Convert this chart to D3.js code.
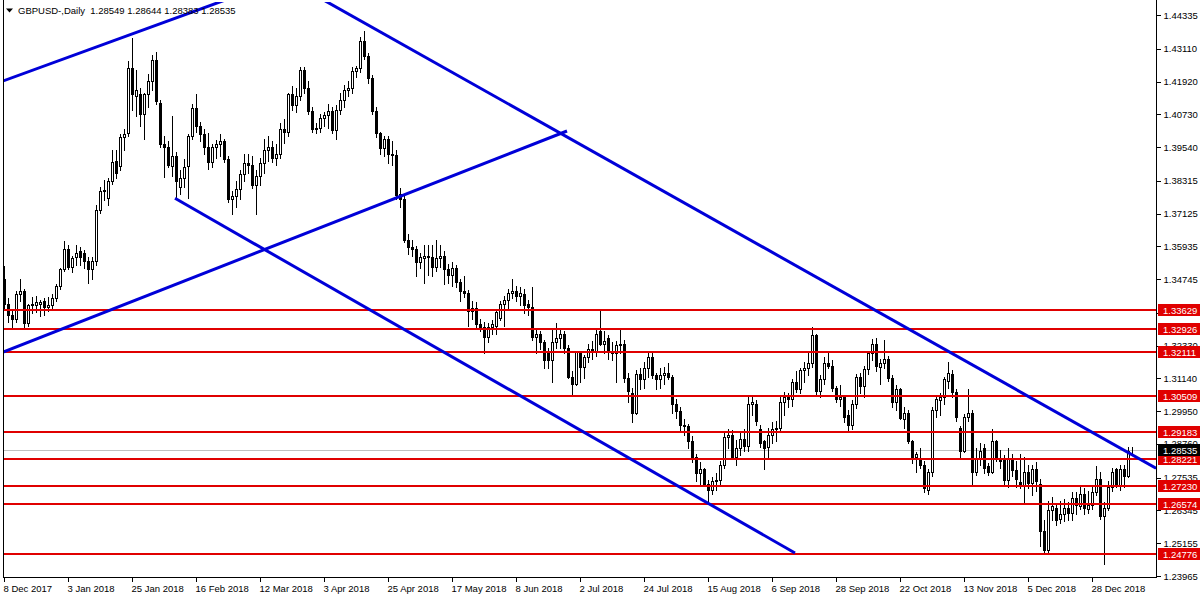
<!DOCTYPE html>
<html><head><meta charset="utf-8">
<script src="https://cdn.jsdelivr.net/npm/d3@7"></script>
<style>
html,body{margin:0;padding:0;background:#fff;}
svg{display:block;}
text{font-family:"Liberation Sans",Arial,sans-serif;font-size:9.5px;}
</style></head><body>
<svg id="chart" width="1200" height="600"></svg>
<script>
// ---------- DATA (GBPUSD Daily, 8 Dec 2017 .. 14 Jan 2019) ----------
const symbolTitle = "GBPUSD-,Daily";
const open = [
1.3475,1.3385,1.3345,1.3330,1.3420,1.3430,1.3315,1.3380,1.3382,1.3385,
1.3395,1.3375,1.3380,1.3405,1.3450,1.3510,1.3585,1.3520,1.3555,1.3575,
1.3570,1.3540,1.3510,1.3540,1.3725,1.3795,1.3770,1.3830,1.3905,1.3885,
1.3990,1.4005,1.4240,1.4140,1.4145,1.4075,1.4145,1.4195,1.4270,1.4115,
1.3965,1.3955,1.3885,1.3920,1.3810,1.3840,1.3885,1.3995,1.4095,1.4030,
1.4000,1.3955,1.3900,1.3955,1.3965,1.3975,1.3910,1.3765,1.3775,1.3800,
1.3855,1.3895,1.3890,1.3815,1.3850,1.3895,1.3945,1.3955,1.3915,1.3930,
1.4020,1.4010,1.4145,1.4105,1.4140,1.4235,1.4170,1.4085,1.4020,1.4025,
1.4060,1.4070,1.4085,1.4015,1.4090,1.4125,1.4160,1.4170,1.4230,1.4240,
1.4340,1.4285,1.4205,1.4085,1.4005,1.3950,1.3985,1.3930,1.3925,1.3785,
1.3765,1.3615,1.3590,1.3585,1.3535,1.3550,1.3560,1.3555,1.3520,1.3550,
1.3560,1.3510,1.3490,1.3515,1.3465,1.3430,1.3425,1.3360,1.3370,1.3310,
1.3300,1.3265,1.3300,1.3305,1.3335,1.3385,1.3400,1.3425,1.3430,1.3415,
1.3420,1.3385,1.3375,1.3265,1.3275,1.3245,1.3210,1.3180,1.3245,1.3260,
1.3275,1.3225,1.3120,1.3095,1.3210,1.3155,1.3190,1.3220,1.3215,1.3285,
1.3240,1.3260,1.3210,1.3205,1.3235,1.3240,1.3115,1.3060,1.2990,1.3130,
1.3110,1.3150,1.3190,1.3125,1.3110,1.3125,1.3135,1.3120,1.3020,1.2995,
1.2945,1.2940,1.2885,1.2830,1.2770,1.2785,1.2730,1.2710,1.2740,1.2745,
1.2800,1.2900,1.2910,1.2830,1.2860,1.2895,1.2870,1.3020,1.3020,1.2930,
1.2885,1.2865,1.2910,1.2930,1.2935,1.3030,1.3045,1.3040,1.3100,1.3075,
1.3145,1.3150,1.3170,1.3270,1.3070,1.3110,1.3170,1.3160,1.3080,1.3040,
1.3045,1.2980,1.2945,1.3020,1.3120,1.3085,1.3148,1.3205,1.3240,1.3155,
1.3170,1.3185,1.3115,1.3030,1.3075,1.2968,1.2990,1.2885,1.2830,1.2825,
1.2800,1.2710,1.2775,1.3000,1.3035,1.3045,1.3105,1.3130,1.3065,1.2935,
1.2850,1.2975,1.2990,1.2775,1.2820,1.2860,1.2795,1.2775,1.2885,1.2825,
1.2820,1.2745,1.2820,1.2780,1.2738,1.2725,1.2775,1.2735,1.2785,1.2730,
1.2560,1.2490,1.2635,1.2645,1.2605,1.2620,1.2645,1.2625,1.2680,1.2650,
1.2695,1.2640,1.2655,1.2700,1.2750,1.2615,1.2645,1.2720,1.2785,1.2725,
1.2785,1.2760,1.28549];
const high = [
1.3522,1.3405,1.3365,1.3430,1.3475,1.3440,1.3385,1.3410,1.3415,1.3400,
1.3405,1.3410,1.3420,1.3455,1.3515,1.3613,1.3600,1.3560,1.3600,1.3590,
1.3580,1.3555,1.3555,1.3745,1.3810,1.3835,1.3840,1.3945,1.3945,1.4000,
1.4020,1.4265,1.4350,1.4235,1.4170,1.4150,1.4220,1.4290,1.4300,1.4125,
1.3995,1.3975,1.4065,1.3935,1.3870,1.3910,1.4000,1.4110,1.4145,1.4045,
1.4020,1.4005,1.3965,1.3980,1.4000,1.3985,1.3920,1.3795,1.3830,1.3870,
1.3930,1.3930,1.3920,1.3870,1.3915,1.3985,1.3995,1.3975,1.3965,1.4040,
1.4055,1.4150,1.4175,1.4170,1.4245,1.4245,1.4195,1.4100,1.4040,1.4075,
1.4080,1.4110,1.4100,1.4105,1.4150,1.4180,1.4195,1.4245,1.4250,1.4355,
1.4377,1.4295,1.4215,1.4100,1.4010,1.3995,1.3995,1.3975,1.3945,1.3805,
1.3775,1.3640,1.3615,1.3595,1.3570,1.3600,1.3600,1.3600,1.3615,1.3600,
1.3575,1.3530,1.3535,1.3525,1.3475,1.3485,1.3435,1.3395,1.3390,1.3330,
1.3320,1.3315,1.3325,1.3365,1.3395,1.3415,1.3440,1.3475,1.3450,1.3445,
1.3440,1.3400,1.3445,1.3295,1.3285,1.3255,1.3225,1.3290,1.3315,1.3295,
1.3285,1.3235,1.3140,1.3215,1.3215,1.3200,1.3240,1.3250,1.3295,1.3365,
1.3285,1.3270,1.3245,1.3250,1.3290,1.3255,1.3135,1.3080,1.3145,1.3150,
1.3175,1.3215,1.3205,1.3135,1.3150,1.3155,1.3170,1.3125,1.3040,1.3010,
1.2965,1.2950,1.2905,1.2840,1.2810,1.2790,1.2745,1.2755,1.2770,1.2815,
1.2915,1.2930,1.2925,1.2890,1.2920,1.2930,1.3045,1.3045,1.3035,1.2945,
1.2890,1.2935,1.2955,1.2960,1.3050,1.3065,1.3060,1.3110,1.3140,1.3150,
1.3175,1.3215,1.3300,1.3275,1.3125,1.3190,1.3215,1.3180,1.3085,1.3090,
1.3050,1.3000,1.3035,1.3130,1.3135,1.3160,1.3215,1.3257,1.3260,1.3185,
1.3255,1.3195,1.3125,1.3090,1.3080,1.3010,1.3000,1.2890,1.2845,1.2860,
1.2815,1.2785,1.3010,1.3050,1.3060,1.3120,1.3175,1.3145,1.3075,1.2940,
1.2985,1.3075,1.3000,1.2860,1.2880,1.2875,1.2805,1.2930,1.2890,1.2855,
1.2835,1.2860,1.2840,1.2815,1.2840,1.2830,1.2800,1.2800,1.2810,1.2750,
1.2600,1.2670,1.2685,1.2660,1.2670,1.2675,1.2665,1.2700,1.2700,1.2725,
1.2715,1.2705,1.2720,1.2795,1.2775,1.2665,1.2740,1.2790,1.2790,1.2800,
1.2800,1.2865,1.28644];
const low = [
1.3370,1.3320,1.3300,1.3320,1.3395,1.3300,1.3305,1.3350,1.3355,1.3340,
1.3345,1.3360,1.3365,1.3395,1.3440,1.3505,1.3510,1.3500,1.3525,1.3525,
1.3515,1.3460,1.3475,1.3525,1.3715,1.3760,1.3745,1.3820,1.3840,1.3870,
1.3945,1.3995,1.4090,1.4065,1.4030,1.3985,1.4100,1.4160,1.4110,1.3955,
1.3845,1.3880,1.3850,1.3765,1.3785,1.3810,1.3770,1.3985,1.4010,1.3975,
1.3930,1.3875,1.3880,1.3915,1.3920,1.3900,1.3755,1.3710,1.3735,1.3765,
1.3830,1.3860,1.3805,1.3710,1.3815,1.3860,1.3905,1.3900,1.3890,1.3915,
1.3970,1.3995,1.4090,1.4080,1.4125,1.4150,1.4075,1.4010,1.4005,1.4010,
1.4030,1.4025,1.4005,1.3985,1.4075,1.4100,1.4140,1.4150,1.4210,1.4225,
1.4275,1.4185,1.4075,1.3990,1.3930,1.3920,1.3895,1.3890,1.3765,1.3735,
1.3610,1.3565,1.3560,1.3485,1.3515,1.3460,1.3490,1.3485,1.3505,1.3520,
1.3455,1.3460,1.3450,1.3445,1.3395,1.3410,1.3305,1.3330,1.3300,1.3285,
1.3205,1.3245,1.3275,1.3275,1.3325,1.3305,1.3365,1.3405,1.3395,1.3380,
1.3350,1.3345,1.3255,1.3205,1.3220,1.3150,1.3150,1.3100,1.3225,1.3225,
1.3205,1.3115,1.3050,1.3090,1.3100,1.3115,1.3175,1.3185,1.3195,1.3235,
1.3205,1.3185,1.3180,1.3100,1.3205,1.3100,1.3030,1.2955,1.2985,1.3075,
1.3080,1.3120,1.3115,1.3075,1.3080,1.3095,1.3110,1.2990,1.2970,1.2925,
1.2910,1.2860,1.2810,1.2740,1.2725,1.2725,1.2660,1.2695,1.2710,1.2730,
1.2790,1.2860,1.2820,1.2800,1.2835,1.2850,1.2850,1.2980,1.2945,1.2865,
1.2785,1.2830,1.2880,1.2885,1.2920,1.2980,1.3010,1.3015,1.3065,1.3060,
1.3100,1.3125,1.3155,1.3055,1.3045,1.3095,1.3150,1.3070,1.3030,1.3015,
1.2955,1.2920,1.2930,1.3005,1.3060,1.3045,1.3130,1.3180,1.3140,1.3095,
1.3150,1.3105,1.3010,1.3000,1.2965,1.2935,1.2880,1.2805,1.2775,1.2790,
1.2700,1.2695,1.2760,1.2975,1.2980,1.3020,1.3080,1.3045,1.2960,1.2825,
1.2845,1.2960,1.2725,1.2765,1.2800,1.2770,1.2765,1.2770,1.2815,1.2790,
1.2725,1.2720,1.2760,1.2720,1.2715,1.2660,1.2715,1.2690,1.2705,1.2505,
1.2478,1.2480,1.2600,1.2580,1.2590,1.2595,1.2600,1.2600,1.2620,1.2640,
1.2620,1.2625,1.2640,1.2690,1.2605,1.2440,1.2635,1.2705,1.2720,1.2710,
1.2720,1.2755,1.28383];
const close = [
1.3385,1.3345,1.3330,1.3420,1.3430,1.3315,1.3380,1.3385,1.3392,1.3390,
1.3375,1.3380,1.3405,1.3450,1.3510,1.3585,1.3520,1.3550,1.3568,1.3555,
1.3540,1.3510,1.3540,1.3725,1.3795,1.3798,1.3830,1.3900,1.3860,1.3990,
1.4000,1.4240,1.4145,1.4160,1.4075,1.4145,1.4195,1.4270,1.4120,1.3965,
1.3955,1.3890,1.3920,1.3830,1.3840,1.3880,1.3995,1.4095,1.4030,1.4000,
1.3955,1.3900,1.3955,1.3965,1.3975,1.3910,1.3765,1.3775,1.3800,1.3855,
1.3895,1.3890,1.3815,1.3850,1.3895,1.3945,1.3955,1.3915,1.3930,1.4020,
1.4010,1.4145,1.4105,1.4140,1.4235,1.4170,1.4085,1.4020,1.4025,1.4060,
1.4070,1.4085,1.4015,1.4090,1.4125,1.4160,1.4170,1.4230,1.4240,1.4340,
1.4285,1.4205,1.4085,1.4005,1.3950,1.3985,1.3930,1.3925,1.3780,1.3765,
1.3615,1.3590,1.3585,1.3535,1.3555,1.3560,1.3555,1.3520,1.3550,1.3560,
1.3510,1.3490,1.3515,1.3465,1.3430,1.3425,1.3360,1.3370,1.3310,1.3300,
1.3265,1.3300,1.3310,1.3355,1.3385,1.3400,1.3425,1.3430,1.3415,1.3425,
1.3380,1.3375,1.3265,1.3275,1.3245,1.3180,1.3180,1.3245,1.3260,1.3275,
1.3225,1.3120,1.3095,1.3210,1.3155,1.3190,1.3220,1.3215,1.3275,1.3240,
1.3250,1.3210,1.3205,1.3235,1.3240,1.3115,1.3070,1.2990,1.3130,1.3110,
1.3150,1.3190,1.3125,1.3110,1.3125,1.3135,1.3120,1.3020,1.2995,1.2945,
1.2940,1.2885,1.2830,1.2770,1.2785,1.2730,1.2710,1.2740,1.2745,1.2800,
1.2900,1.2910,1.2830,1.2860,1.2895,1.2870,1.3020,1.3030,1.2960,1.2880,
1.2860,1.2910,1.2930,1.2935,1.3030,1.3045,1.3040,1.3100,1.3075,1.3145,
1.3150,1.3170,1.3270,1.3070,1.3110,1.3170,1.3160,1.3080,1.3040,1.3045,
1.2975,1.2945,1.3020,1.3120,1.3085,1.3148,1.3205,1.3240,1.3160,1.3170,
1.3185,1.3115,1.3030,1.3075,1.2970,1.2990,1.2885,1.2830,1.2838,1.2800,
1.2715,1.2775,1.3000,1.3040,1.3045,1.3110,1.3135,1.3065,1.2975,1.2850,
1.2975,1.2990,1.2775,1.2820,1.2850,1.2790,1.2775,1.2885,1.2825,1.2815,
1.2745,1.2820,1.2780,1.2750,1.2725,1.2775,1.2735,1.2785,1.2740,1.2560,
1.2490,1.2635,1.2650,1.2600,1.2620,1.2645,1.2625,1.2680,1.2655,1.2695,
1.2645,1.2655,1.2700,1.2750,1.2615,1.2645,1.2720,1.2775,1.2725,1.2785,
1.2760,1.2850,1.28535];

const xTickIndex = [0,16,32,48,64,80,96,112,128,144,160,176,192,208,224,240,256,272];
const xTickLabels = ["8 Dec 2017","3 Jan 2018","25 Jan 2018","16 Feb 2018","12 Mar 2018","3 Apr 2018",
  "25 Apr 2018","17 May 2018","8 Jun 2018","2 Jul 2018","24 Jul 2018","15 Aug 2018","6 Sep 2018",
  "28 Sep 2018","22 Oct 2018","13 Nov 2018","5 Dec 2018","28 Dec 2018"];
const yTicks = [1.44335,1.43110,1.41920,1.40730,1.39540,1.38315,1.37125,1.35935,1.34745,1.33520,
  1.32330,1.31140,1.29950,1.28760,1.27535,1.26345,1.25155,1.23965];
const levels = [1.33629,1.32926,1.32111,1.30509,1.29183,1.28221,1.27230,1.26574,1.24776];
// trend lines: [barIndex1, price1, barIndex2, price2]
const trendLines = [
  [-1, 1.41899, 60, 1.45127],
  [-1, 1.32055, 140.75, 1.40123],
  [78, 1.45034, 288, 1.27880],
  [42.75, 1.37679, 197.75, 1.24800]
];

// ---------- CHART ----------
const W = 1200, H = 600;
const plot = {left: 3, right: 1156, top: 2, bottom: 577};
const svg = d3.select("#chart");
const x = d3.scaleLinear().domain([0, 282]).range([4, 1132]);
const y = d3.scaleLinear().domain([1.23965, 1.44335]).range([576, 15]);

svg.append("rect").attr("width", W).attr("height", H).attr("fill", "#fff");
svg.append("defs").append("clipPath").attr("id", "clip")
  .append("rect").attr("x", plot.left).attr("y", plot.top)
  .attr("width", plot.right - plot.left).attr("height", plot.bottom - plot.top);

const g = svg.append("g").attr("clip-path", "url(#clip)");
const lastPrice = close[close.length - 1];
const py = v => Math.round(y(v));

// current price line
g.append("line").attr("x1", plot.left).attr("x2", plot.right)
  .attr("y1", py(lastPrice) + 0.5).attr("y2", py(lastPrice) + 0.5)
  .attr("stroke", "#c0c0c0").attr("stroke-width", 1).attr("shape-rendering", "crispEdges");

// candles
const bars = close.map((c, i) => ({i, o: open[i], h: high[i], l: low[i], c}));
const cg = g.append("g").attr("shape-rendering", "crispEdges");
cg.selectAll("line.wick").data(bars).join("line").attr("class", "wick")
  .attr("x1", d => Math.round(x(d.i)) + 0.5).attr("x2", d => Math.round(x(d.i)) + 0.5)
  .attr("y1", d => py(d.h)).attr("y2", d => py(d.l) + 1)
  .attr("stroke", "#000").attr("stroke-width", 1);
cg.selectAll("rect.body").data(bars).join("rect").attr("class", "body")
  .attr("x", d => Math.round(x(d.i)) - 0.5)
  .attr("y", d => Math.min(py(d.o), py(d.c)) + 0.5)
  .attr("width", 2)
  .attr("height", d => Math.abs(py(d.o) - py(d.c)))
  .attr("fill", d => d.c >= d.o ? "#fff" : "#000")
  .attr("stroke", "#000").attr("stroke-width", 1);

// horizontal levels
g.selectAll("line.level").data(levels).join("line").attr("class", "level")
  .attr("x1", plot.left).attr("x2", plot.right)
  .attr("y1", d => py(d)).attr("y2", d => py(d))
  .attr("stroke", "#e00000").attr("stroke-width", 2).attr("shape-rendering", "crispEdges");

// trend lines
g.selectAll("line.trend").data(trendLines).join("line").attr("class", "trend")
  .attr("x1", d => x(d[0])).attr("y1", d => y(d[1]))
  .attr("x2", d => x(d[2])).attr("y2", d => y(d[3]))
  .attr("stroke", "#0000d8").attr("stroke-width", 3).attr("stroke-linecap", "butt");

// frame (left, bottom, right)
svg.append("path")
  .attr("d", `M${plot.left + 0.5},0V${plot.bottom + 0.5}H${plot.right + 0.5}V0`)
  .attr("fill", "none").attr("stroke", "#000").attr("shape-rendering", "crispEdges");

// right axis
const yAxis = svg.append("g").attr("transform", `translate(${plot.right + 0.5},0)`)
  .call(d3.axisRight(y).tickValues(yTicks).tickFormat(d3.format(".5f")).tickSize(4).tickSizeOuter(0).tickPadding(3));
yAxis.select(".domain").remove();
yAxis.selectAll("line").attr("stroke", "#000").attr("shape-rendering", "crispEdges");
yAxis.selectAll("text").attr("font-family", "Liberation Sans, Arial, sans-serif").attr("font-size", 9.5).attr("fill", "#000");

// bottom axis
const xAxis = svg.append("g").attr("transform", `translate(0,${plot.bottom + 0.5})`)
  .call(d3.axisBottom(x).tickValues(xTickIndex).tickFormat((d, i) => xTickLabels[i]).tickSize(4).tickSizeOuter(0).tickPadding(4));
xAxis.select(".domain").remove();
xAxis.selectAll(".tick").attr("transform", d => `translate(${Math.round(x(d)) + 0.5},0)`);
xAxis.selectAll("line").attr("stroke", "#000").attr("shape-rendering", "crispEdges");
xAxis.selectAll("text").attr("text-anchor", "start").attr("x", -1)
  .attr("font-family", "Liberation Sans, Arial, sans-serif").attr("font-size", 9.5).attr("fill", "#000");

// level price labels on axis
const lab = svg.append("g");
const allLabels = levels.map(v => ({v, bg: "#e00000"})).concat([{v: lastPrice, bg: "#000"}]);
lab.selectAll("rect").data(allLabels).join("rect")
  .attr("x", plot.right + 2).attr("y", d => py(d.v) - 6).attr("width", 42).attr("height", 12)
  .attr("fill", d => d.bg).attr("shape-rendering", "crispEdges");
lab.selectAll("text").data(allLabels).join("text")
  .attr("x", plot.right + 7).attr("y", d => py(d.v) + 3.5)
  .attr("fill", "#fff").text(d => d3.format(".5f")(d.v));

// title
svg.append("path").attr("d", "M6,8.5L13,8.5L9.5,12.5Z").attr("fill", "#000");
svg.append("text").attr("x", 18).attr("y", 14).attr("fill", "#000")
  .attr("xml:space", "preserve").style("white-space", "pre")
  .text(`${symbolTitle}  ${d3.format(".5f")(open[open.length-1])} ${d3.format(".5f")(high[high.length-1])} ${d3.format(".5f")(low[low.length-1])} ${d3.format(".5f")(lastPrice)}`);
</script>
</body></html>
